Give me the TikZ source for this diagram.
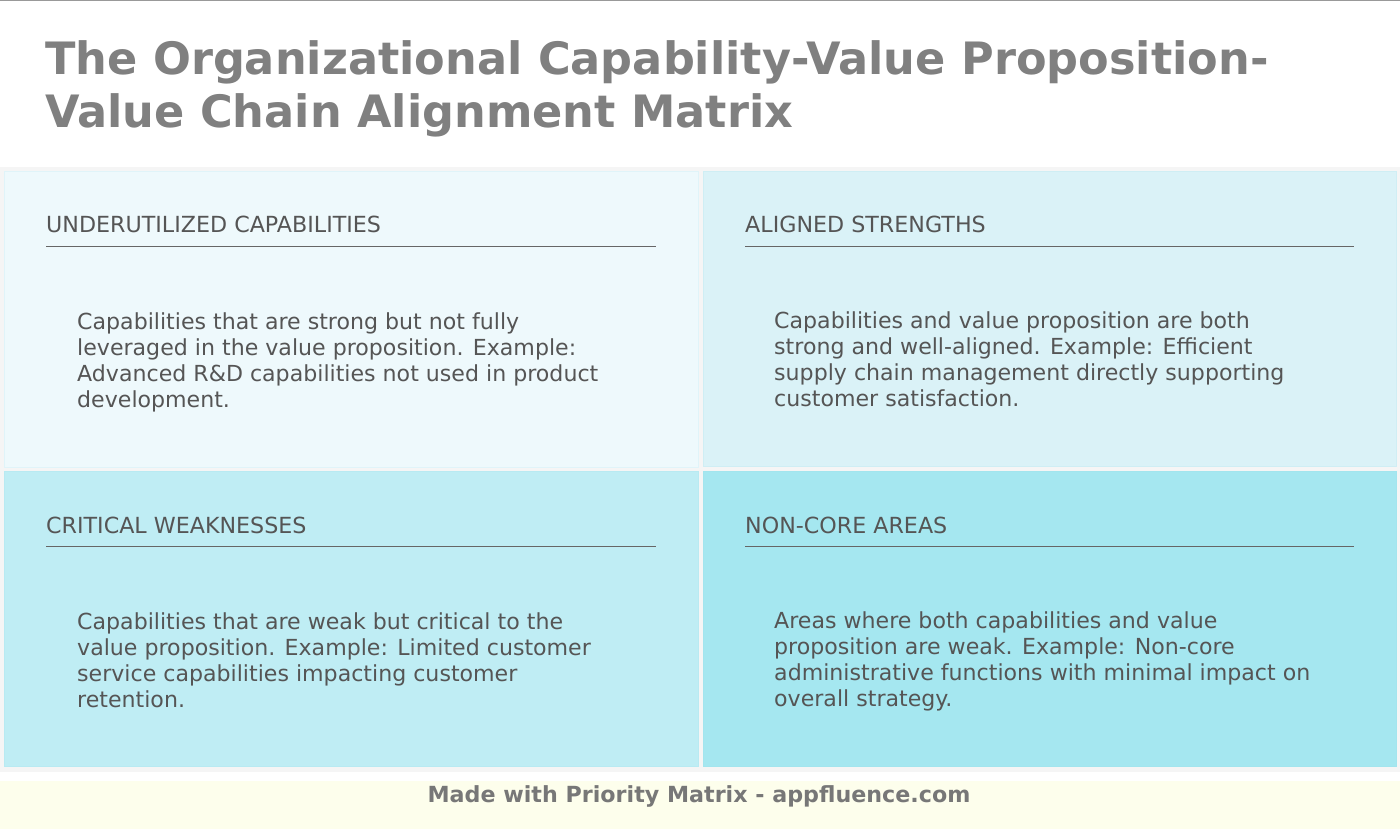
\documentclass[tikz,border=0pt]{standalone}
\usepackage{fontspec}
\setmainfont{DejaVu Sans}
\definecolor{titlegray}{HTML}{808080}
\definecolor{textgray}{HTML}{555555}
\definecolor{gridbg}{HTML}{F5F5F5}
\definecolor{qone}{HTML}{EEF9FC}
\definecolor{qtwo}{HTML}{DAF2F7}
\definecolor{qthree}{HTML}{BFEDF4}
\definecolor{qfour}{HTML}{A5E7F0}
\definecolor{edgecyan}{HTML}{8FD8E6}
\definecolor{footbg}{HTML}{FDFEEC}
\definecolor{foottext}{HTML}{777777}
\definecolor{rulegray}{HTML}{666666}
\tikzset{
  quad/.style={draw=#1!85!edgecyan, line width=0.6pt, fill=#1},
  headtxt/.style={anchor=base west, inner sep=0pt, text=textgray, font=\fontsize{22.2}{26}\selectfont},
  bodytxt/.style={anchor=base west, inner sep=0pt, text=textgray, align=left, font=\fontsize{22.1}{26}\selectfont},
  hrule/.style={draw=rulegray, line width=1pt},
}
\begin{document}
\begin{tikzpicture}[x=1pt,y=-1pt]
\useasboundingbox (0,0) rectangle (1400,829);
\fill[white] (0,0) rectangle (1400,829);
\draw[draw=gray!80, line width=1.5pt] (0,0.75) -- (1400,0.75);
% title
\node[anchor=base west, inner sep=0pt, text=titlegray, align=left,
      font=\bfseries\fontsize{44.6}{53}\selectfont] (title) at (45,128)
  {The Organizational Capability-Value Proposition-\\Value Chain Alignment Matrix};
% grid background
\fill[gridbg] (0,167) rectangle (1400,772);
% quadrants
\path[quad=qone] (4,171) rectangle (698,467);
\path[quad=qtwo] (703,171) rectangle (1396,466);
\path[quad=qthree] (4,471) rectangle (698,766);
\path[quad=qfour] (703,471) rectangle (1396,766);
% headers
\node[headtxt] (h1) at (46,233) {UNDERUTILIZED CAPABILITIES};
\draw[hrule] (46,246) -- (656,246);
\node[headtxt] (h2) at (745,233) {ALIGNED STRENGTHS};
\draw[hrule] (745,246) -- (1354,246);
\node[headtxt] (h3) at (46,533) {CRITICAL WEAKNESSES};
\draw[hrule] (46,546) -- (656,546);
\node[headtxt] (h4) at (745,533) {NON-CORE AREAS};
\draw[hrule] (745,546) -- (1354,546);
% bodies (anchor at last line baseline)
\node[bodytxt] (b1) at (77,407) {Capabilities that are strong but not fully\\leveraged in the value proposition. Example:\\Advanced R\&D capabilities not used in product\\development.};
\node[bodytxt] (b2) at (774,406) {Capabilities and value proposition are both\\strong and well-aligned. Example: Efficient\\supply chain management directly supporting\\customer satisfaction.};
\node[bodytxt] (b3) at (77,707) {Capabilities that are weak but critical to the\\value proposition. Example: Limited customer\\service capabilities impacting customer\\retention.};
\node[bodytxt] (b4) at (774,706) {Areas where both capabilities and value\\proposition are weak. Example: Non-core\\administrative functions with minimal impact on\\overall strategy.};
% footer
\fill[footbg] (0,781) rectangle (1400,829);
\node[anchor=base, inner sep=0pt, text=foottext, font=\bfseries\fontsize{22.2}{26}\selectfont] (foot) at (699,802) {Made with Priority Matrix - appfluence.com};
\end{tikzpicture}
\end{document}
